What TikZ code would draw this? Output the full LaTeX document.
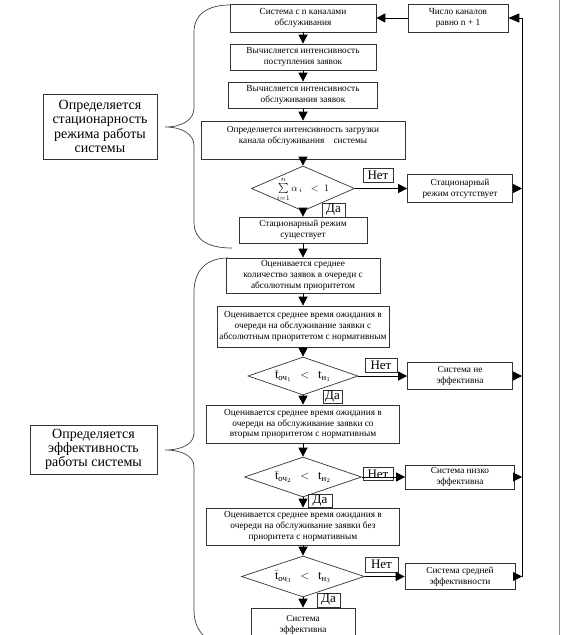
\documentclass[tikz,border=0pt]{standalone}
\usepackage{fontspec}
\setmainfont{Liberation Serif}
\usepackage{amsmath}
\usetikzlibrary{arrows.meta,shapes.geometric}
\newcommand{\tcmp}[1]{$\bar{\text{t}}_{\text{оч}_{#1}}\;\,<\;\,\text{t}_{\text{н}_{#1}}$}
\begin{document}
\begin{tikzpicture}[x=1pt,y=-1pt,
  box/.style={draw=black!80,line width=0.7pt,rectangle,align=center,inner sep=0pt,
    font=\fontsize{9.3}{10.8}\selectfont},
  dec/.style={draw=black!80,line width=0.7pt,diamond,inner sep=0pt},
  dtext/.style={inner sep=0pt,font=\fontsize{12.5}{13}\selectfont},
  lab/.style={draw=black!80,line width=0.7pt,rectangle,align=center,inner sep=0pt,
    font=\fontsize{14}{14.3}\selectfont},
  yn/.style={draw=black!80,line width=0.7pt,rectangle,inner sep=0pt,
    font=\fontsize{13}{13}\selectfont},
  arr/.style={draw=black,line width=0.8pt,-{Triangle[length=9pt,width=9pt]}},
  brace/.style={draw=black!75,line width=0.7pt},
]
\useasboundingbox (0,0) rectangle (561,635);
\clip (0,0) rectangle (561,635);

% main flow
\node[box,minimum width=146pt,minimum height=28pt] (b1) at (303,18) {Система с n каналами\\обслуживания};
\node[box,minimum width=100pt,minimum height=28pt] (nb) at (458,18) {Число каналов\\равно n + 1};
\node[box,minimum width=146pt,minimum height=26pt] (b2) at (303,57) {Вычисляется интенсивность\\поступления заявок};
\node[box,minimum width=149pt,minimum height=26pt] (b3) at (303,95) {Вычисляется интенсивность\\обслуживания заявок};
\node[box,minimum width=204pt,minimum height=38pt] (b4) at (303,140) {Определяется интенсивность загрузки\\канала обслуживания\quad системы\\\mbox{}};
\node[dec,minimum width=103pt,minimum height=45pt] (d1) at (303,188.5) {};
\node[dtext,font=\fontsize{10}{11}\selectfont] (t1) at ([yshift=-1pt]d1.center) {$\sum\limits_{i=1}^{n}\alpha_{\,i}\;\;<\;1$};
\node[yn,minimum width=30pt,minimum height=14pt] (n1) at (378,175) {Нет};
\node[box,minimum width=105pt,minimum height=28pt] (s1) at (460,188.5) {Стационарный\\режим отсутствует};
\node[yn,minimum width=23pt,minimum height=14pt] (y1) at (333.5,210) {Да};
\node[box,minimum width=128pt,minimum height=26pt] (b5) at (303,230) {Стационарный режим\\существует};

\node[box,minimum width=154pt,minimum height=35pt] (b6) at (303,275.5) {Оценивается среднее\\количество заявок в очереди с\\абсолютным приоритетом};
\node[box,minimum width=172pt,minimum height=41pt] (b7) at (303,326.5) {Оценивается среднее время ожидания в\\очереди на обслуживание заявки с\\абсолютным приоритетом с нормативным};
\node[dec,minimum width=110pt,minimum height=38pt] (d2) at (303,376) {};
\node[dtext] (t2) at (d2) {\tcmp{1}};
\node[yn,minimum width=32pt,minimum height=14pt] (n2) at (381,365) {Нет};
\node[box,minimum width=105pt,minimum height=27pt] (s2) at (460,376) {Система не\\эффективна};
\node[yn,minimum width=19pt,minimum height=13pt] (y2) at (332.5,396.5) {Да};
\node[box,minimum width=193pt,minimum height=38pt] (b8) at (303,424) {Оценивается среднее время ожидания в\\очереди на обслуживание заявки со\\вторым приоритетом с нормативным};
\node[dec,minimum width=117pt,minimum height=40pt] (d3) at (303,477) {};
\node[dtext] (t3) at (d3) {\tcmp{2}};
\node[yn,minimum width=30pt,minimum height=13pt] (n3) at (378,474) {Нет};
\node[box,minimum width=109pt,minimum height=24pt] (s3) at (460,477) {Система низко\\эффективна};
\node[yn,minimum width=24pt,minimum height=13pt] (y3) at (320,501) {Да};
\node[box,minimum width=193pt,minimum height=37pt] (b9) at (303,526.5) {Оценивается среднее время ожидания в\\очереди на обслуживание заявки без\\приоритета с нормативным};
\node[dec,minimum width=123pt,minimum height=41pt] (d4) at (303,576.5) {};
\node[dtext] (t4) at (d4) {\tcmp{3}};
\node[yn,minimum width=33pt,minimum height=15pt] (n4) at (381.5,564.5) {Нет};
\node[box,minimum width=110pt,minimum height=26pt] (s4) at (460,576.5) {Система средней\\эффективности};
\node[yn,minimum width=23pt,minimum height=14pt] (y4) at (328.5,600) {Да};
\node[box,minimum width=104pt,minimum height=42pt] (b10) at (303,629) {Система\\эффективна\\\mbox{}};

% side labels
\node[lab,minimum width=114pt,minimum height=65pt] (L1) at (100,126.5) {Определяется\\стационарность\\режима работы\\системы};
\node[lab,minimum width=127pt,minimum height=49pt] (L2) at (93.5,449.5) {Определяется\\эффективность\\работы системы};

% connectors
\draw[arr] (nb) -- (b1);
\draw[arr] (b1) -- (b2);
\draw[arr] (b2) -- (b3);
\draw[arr] (b3) -- (b4);
\draw[arr] (b4) -- (d1);
\draw[arr] (d1) -- (b5);
\draw[arr] (d1) -- (s1);
\draw[arr] (b5) -- (b6);
\draw[arr] (b6) -- (b7);
\draw[arr] (b7) -- (d2);
\draw[arr] (d2) -- (s2);
\draw[arr] (d2) -- (b8);
\draw[arr] (b8) -- (d3);
\draw[arr] (d3) -- (s3);
\draw[arr] (d3) -- (b9);
\draw[arr] (b9) -- (d4);
\draw[arr] (d4) -- (s4);
\draw[arr] (d4) -- (b10);

\coordinate (fb) at (522,576.5);
\draw[arr] (s1.east) -- (s1.east -| fb);
\draw[arr] (s2.east) -- (s2.east -| fb);
\draw[arr] (s3.east) -- (s3.east -| fb);
\draw[arr] (s4.east) -- (fb);
\draw[arr,-{Triangle[length=11pt,width=9pt]}] (fb) |- (nb.east);

% braces
\draw[brace] (230,5) .. controls (208,5) and (194,14) .. (194,32) -- (194,108)
  .. controls (194,120) and (182,127) .. (165,127)
  .. controls (182,127) and (194,134) .. (194,146) -- (194,222)
  .. controls (194,240) and (208,248) .. (232,248);
\draw[brace] (228,258) .. controls (205,258) and (194,272) .. (194,292) -- (194,433)
  .. controls (194,444) and (182,450) .. (165,450)
  .. controls (182,450) and (194,456) .. (194,467) -- (194,610)
  .. controls (194,625) and (200,635) .. (212,642);

% page edge
\draw[black!45,line width=0.8pt] (559,0) -- (559,635);
\end{tikzpicture}
\end{document}
